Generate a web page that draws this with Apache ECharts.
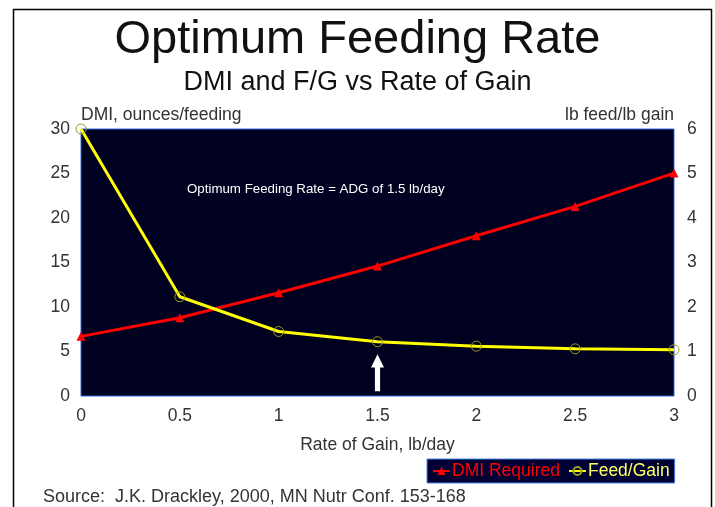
<!DOCTYPE html>
<html lang="en">
<head>
<meta charset="UTF-8">
<title>Optimum Feeding Rate</title>
<script src="https://cdn.jsdelivr.net/npm/echarts@6/dist/echarts.min.js"></script>
<style>
html,body{margin:0;padding:0;background:#fff;}
#main{width:715px;height:507px;}
</style>
</head>
<body>
<div id="main"></div>
<script>
// rate of gain, lb/day
var gain = [0, 0.5, 1, 1.5, 2, 2.5, 3];
// DMI required, ounces/feeding (left axis)
var dmi = [6.7, 8.8, 11.6, 14.6, 18.0, 21.3, 25.05];
// feed/gain, lb feed/lb gain (right axis)
var feedGain = [6.0, 2.23, 1.45, 1.22, 1.12, 1.06, 1.04];
var optimumGain = 1.5;

var font = 'Liberation Sans, Arial, sans-serif';
var chart = echarts.init(document.getElementById('main'));

var option = {
    backgroundColor: '#fff',
    textStyle: { fontFamily: font },
    title: [
        { text: 'Optimum Feeding Rate', left: 'center', top: 12,
          textStyle: { fontSize: 47, fontWeight: 'normal', color: '#111', fontFamily: font } },
        { text: 'DMI and F/G vs Rate of Gain', left: 'center', top: 64,
          textStyle: { fontSize: 27, fontWeight: 'normal', color: '#111', fontFamily: font } }
    ],
    grid: {
        left: 81, right: 41, top: 129, bottom: 111,
        show: true, backgroundColor: '#000020', borderColor: '#2a66d8', borderWidth: 1
    },
    legend: {
        left: 427, top: 459,
        backgroundColor: '#000033', borderColor: '#4a86e8', borderWidth: 1,
        padding: [3, 5], itemGap: 8, itemWidth: 17, itemHeight: 10,
        textStyle: { fontSize: 17.5, fontFamily: font, padding: [0, 0, 0, -3] },
        data: [
            { name: 'DMI Required', textStyle: { color: '#ff0000' } },
            { name: 'Feed/Gain', textStyle: { color: '#ffff66' } }
        ]
    },
    xAxis: {
        type: 'value', min: 0, max: 3, interval: 0.5,
        name: 'Rate of Gain, lb/day', nameLocation: 'middle', nameGap: 40,
        nameTextStyle: { fontSize: 17.5, color: '#333' },
        axisLine: { show: false }, axisTick: { show: false }, splitLine: { show: false },
        axisLabel: { fontSize: 17.5, color: '#333', margin: 11 }
    },
    yAxis: [
        {
            type: 'value', min: 0, max: 30, interval: 5,
            name: 'DMI, ounces/feeding', nameLocation: 'end', nameGap: 5,
            nameTextStyle: { fontSize: 17.5, color: '#333', align: 'left' },
            axisLine: { show: false }, axisTick: { show: false }, splitLine: { show: false },
            axisLabel: { fontSize: 17.5, color: '#333', margin: 11 }
        },
        {
            type: 'value', min: 0, max: 6, interval: 1,
            name: 'lb feed/lb gain', nameLocation: 'end', nameGap: 5,
            nameTextStyle: { fontSize: 17.5, color: '#333', align: 'right' },
            axisLine: { show: false }, axisTick: { show: false }, splitLine: { show: false },
            axisLabel: { fontSize: 17.5, color: '#333', margin: 13 }
        }
    ],
    series: [
        {
            name: 'DMI Required', type: 'line', yAxisIndex: 0,
            data: gain.map(function (g, i) { return [g, dmi[i]]; }),
            symbol: 'triangle', symbolSize: 9,
            lineStyle: { color: '#ff0000', width: 3 },
            itemStyle: { color: '#ff0000' },
            z: 3
        },
        {
            name: 'Feed/Gain', type: 'line', yAxisIndex: 1,
            data: gain.map(function (g, i) { return [g, feedGain[i]]; }),
            symbol: 'circle', symbolSize: 10,
            lineStyle: { color: '#ffff00', width: 3 },
            itemStyle: { color: 'rgba(0,0,0,0)', borderColor: '#9a9a28', borderWidth: 1 },
            z: 4,
            markPoint: {
                silent: true,
                symbol: 'path://M5,0 L10,10 L7,10 L7,28 L3,28 L3,10 L0,10 Z',
                symbolSize: [13, 37],
                itemStyle: { color: '#ffffff' },
                label: { show: false },
                data: [{ coord: [optimumGain, 0.52] }]
            }
        }
    ],
    graphic: [
        { type: 'text', left: 187, top: 183,
          style: { text: 'Optimum Feeding Rate = ADG of 1.5 lb/day', fill: '#ffffff', fontSize: 13.3, fontFamily: font } },
        { type: 'text', left: 43, top: 488,
          style: { text: 'Source:  J.K. Drackley, 2000, MN Nutr Conf. 153-168', fill: '#333', fontSize: 18, fontFamily: font } },
        { type: 'line', shape: { x1: 13, y1: 9.5, x2: 712, y2: 9.5 }, style: { stroke: '#000', lineWidth: 1.5 } },
        { type: 'line', shape: { x1: 13.5, y1: 9, x2: 13.5, y2: 507 }, style: { stroke: '#000', lineWidth: 1.5 } },
        { type: 'line', shape: { x1: 711.5, y1: 9, x2: 711.5, y2: 507 }, style: { stroke: '#000', lineWidth: 1.5 } }
    ]
};
chart.setOption(option);
</script>
</body>
</html>
